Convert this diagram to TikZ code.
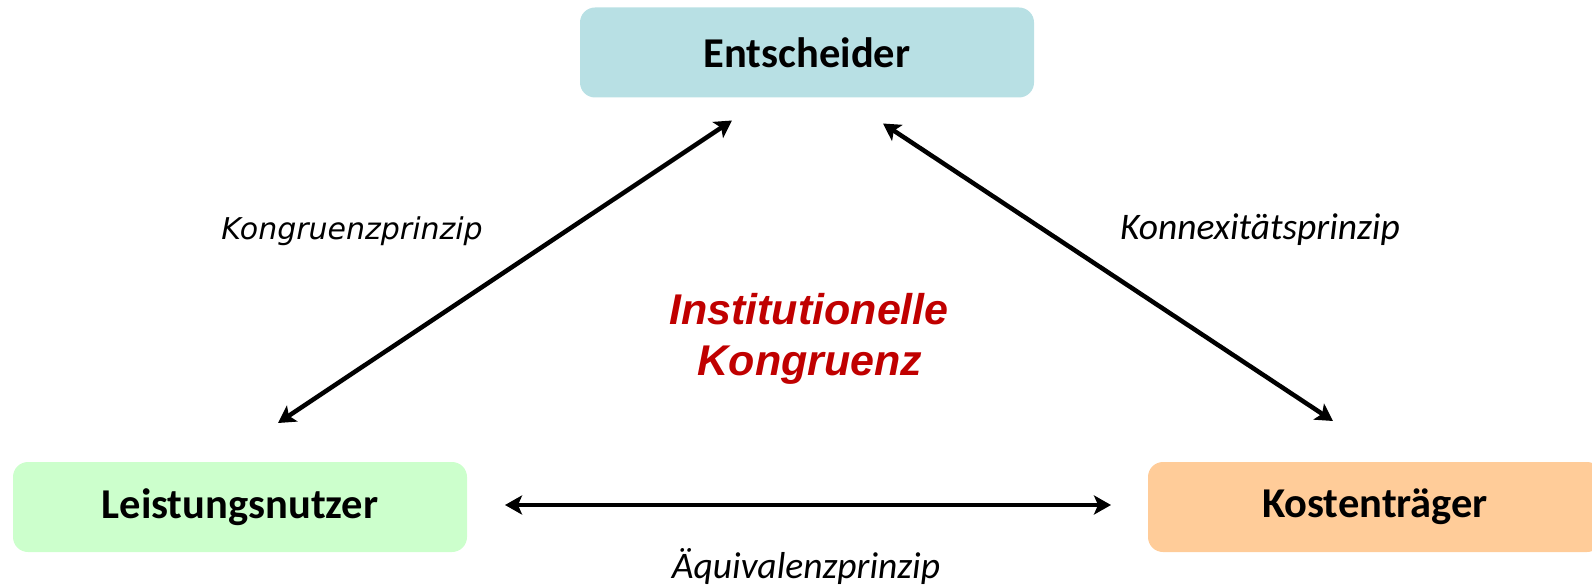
\documentclass[tikz,border=0pt]{standalone}
\usepackage{fontspec}
\setmainfont{Carlito}
\newfontfamily\obliquefont{DejaVu Sans}
\newfontfamily\arialfont{Liberation Sans}
\usepackage{tikz}
\usetikzlibrary{arrows.meta,calc,positioning}
\definecolor{deciderfill}{RGB}{184,224,228}
\definecolor{userfill}{RGB}{204,255,204}
\definecolor{payerfill}{RGB}{255,204,153}
\definecolor{congred}{RGB}{192,0,0}
\tikzstyle{actor}=[
  draw=none,
  font={\fontsize{42.5}{46}\selectfont\bfseries},
  inner sep=0pt,
  minimum height=90pt,
  minimum width=454pt,
  outer sep=0pt,
  rectangle,
  rounded corners=15pt,
  text centered,
]
\tikzstyle{link}=[
  color=black,
  line width=4.5pt,
  <->,
]
\tikzstyle{principle}=[
  font={\fontsize{37.5}{40}\selectfont\itshape},
  anchor=base,
  inner sep=0pt,
]
\tikzstyle{centre}=[
  anchor=base,
  inner sep=0pt,
  text=congred,
  font={\fontsize{43}{51}\selectfont\arialfont\bfseries\itshape},
]
\tikzset{
  >={Stealth[length=17pt,width=19pt,inset=4pt]},
}
\begin{document}
\begin{tikzpicture}[x=1pt,y=-1pt]
  \useasboundingbox (0,0) rectangle (1592,588);
  \node (entscheider) [actor, fill=deciderfill] at (807,52.5) {Entscheider};
  \node (nutzer) [actor, fill=userfill] at (240,507) {Leistungsnutzer};
  \node (traeger) [actor, fill=payerfill] at (1375,507) {Kostentr\"ager};
  %%
  \coordinate (A) at ($(nutzer.north)+(38,-39)$);
  \coordinate (B) at ($(entscheider.south)+(-75,23)$);
  \coordinate (C) at ($(entscheider.south)+(76,26)$);
  \coordinate (D) at ($(traeger.north)+(-42,-41)$);
  \coordinate (E) at ($(nutzer.east)+(38,-2)$);
  \coordinate (F) at ($(traeger.west)+(-37,-2)$);
  %%
  \draw [link] (A) -- (B);
  \draw [link] (C) -- (D);
  \draw [link] (E) -- (F);
  %%
  \node (kongruenz) [principle, font={\fontsize{30}{34}\selectfont\obliquefont\itshape}]
    at (352,240) {Kongruenzprinzip};
  \node (konnex) [principle] at (1260,240) {Konnexit\"atsprinzip};
  \node (aequiv) [principle] at (806,578) {\"Aquivalenzprinzip};
  \node (inst) [centre] at (809,324) {Institutionelle};
  \node (kong) [centre] at (810,375) {Kongruenz};
\end{tikzpicture}
\end{document}
